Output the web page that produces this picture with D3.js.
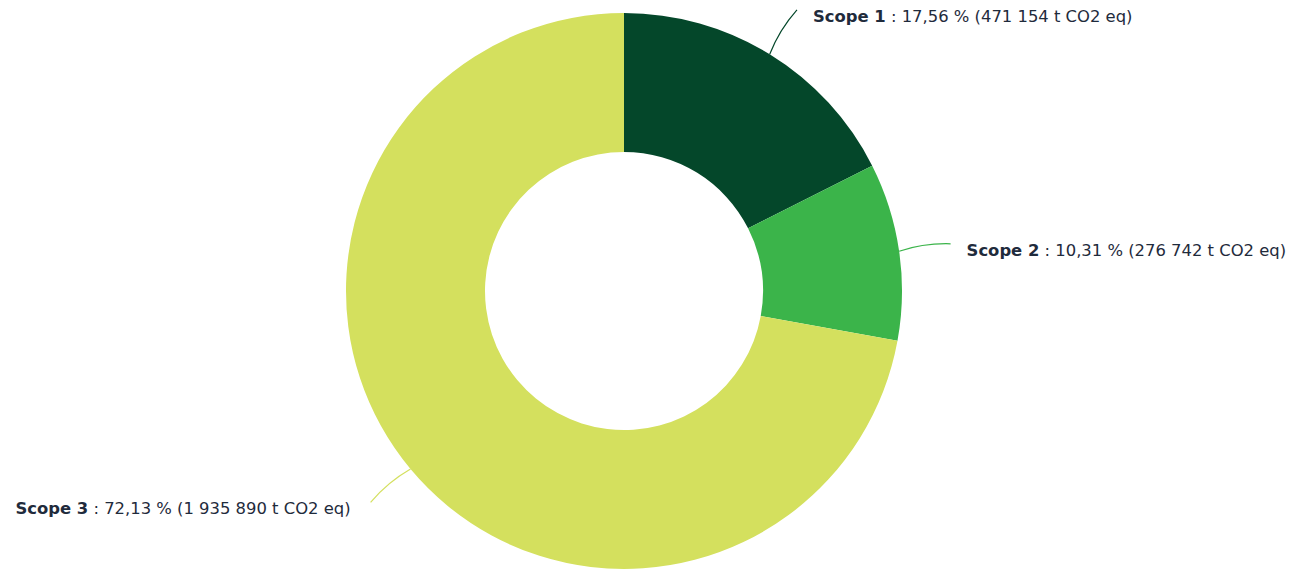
<!DOCTYPE html>
<html>
<head>
<meta charset="utf-8">
<script src="https://cdn.jsdelivr.net/npm/d3@7"></script>
<style>
  html, body { margin: 0; padding: 0; background: #ffffff; }
  svg { display: block; }
</style>
</head>
<body>
<svg id="chart" width="1308" height="572"></svg>
<script>
const categories = ["Scope 1", "Scope 2", "Scope 3"];
const percents = [17.56, 10.31, 72.13];
const percentLabels = ["17,56", "10,31", "72,13"];
const tonnes = ["471 154", "276 742", "1 935 890"];
const colors = ["#04472a", "#3bb44a", "#d4e05e"];

const width = 1308, height = 572;
const cx = 624, cy = 291;
const outerR = 278, innerR = 139, labelR = 330;

const svg = d3.select("#chart");
const g = svg.append("g").attr("transform", `translate(${cx},${cy})`);

const data = categories.map((c, i) => ({ cat: c, value: percents[i], pct: percentLabels[i], t: tonnes[i], color: colors[i] }));

const pie = d3.pie().sort(null).value(d => d.value);
const arcs = pie(data);

const arc = d3.arc().innerRadius(innerR).outerRadius(outerR);

g.selectAll("path.slice")
  .data(arcs)
  .enter().append("path")
  .attr("class", "slice")
  .attr("d", arc)
  .attr("fill", d => d.data.color);

function polar(r, a) { return [r * Math.sin(a), -r * Math.cos(a)]; }

arcs.forEach(d => {
  const mid = (d.startAngle + d.endAngle) / 2;
  const p0 = polar(outerR, mid);
  const p2 = polar(labelR, mid);
  const pc = polar((outerR + labelR) / 2, mid - 0.015 * (Math.sin(mid) >= 0 ? 1 : -1));
  const right = Math.sin(mid) >= 0;
  g.append("path")
    .attr("d", `M${p0[0]},${p0[1]} Q${pc[0]},${pc[1]} ${p2[0]},${p2[1]}`)
    .attr("fill", "none")
    .attr("stroke", d.data.color)
    .attr("stroke-width", 1.2);
  const txt = g.append("text")
    .attr("x", p2[0] + (right ? 16 : -20))
    .attr("y", p2[1] + 6)
    .attr("dy", "0.35em")
    .attr("text-anchor", right ? "start" : "end")
    .attr("font-family", "'DejaVu Sans', sans-serif")
    .attr("font-size", "16.4px")
    .attr("fill", "#1f2b3c");
  txt.append("tspan").attr("font-weight", "bold").text(d.data.cat);
  txt.append("tspan").text(` : ${d.data.pct} % (${d.data.t} t CO2 eq)`);
});
</script>
</body>
</html>
